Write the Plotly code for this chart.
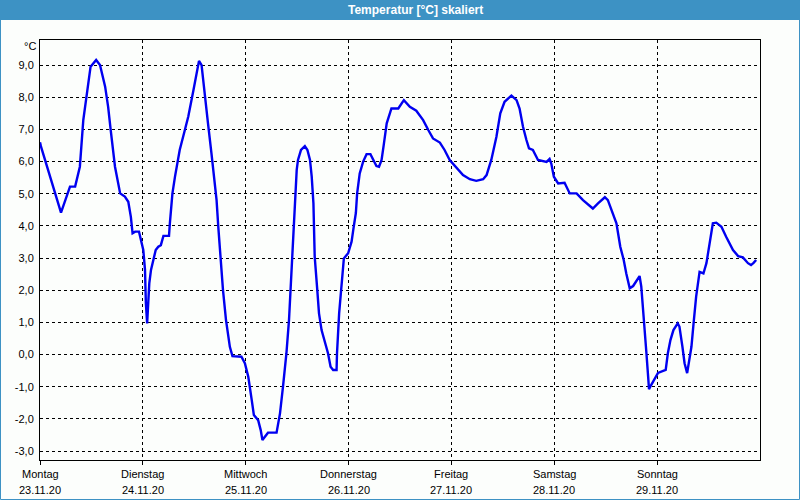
import plotly.graph_objects as go

# hours since Monday 23.11.20 00:00
hours = [0, 0.2, 4.9, 7.0, 8.2, 9.3, 10.1, 10.9, 11.8, 13.1, 14.0, 15.2, 15.9, 16.5, 17.5, 18.7,
         19.8, 20.6, 21.2, 21.6, 22.2, 23.1, 23.6, 24.1, 24.5, 24.7, 25.0, 25.3, 25.5, 25.9,
         26.4, 27.0, 27.6, 28.2, 28.8, 30.1, 30.3, 30.9, 31.5, 32.6, 33.8, 34.6, 35.8, 36.5,
         37.1, 37.7, 38.2, 39.2, 40.0, 40.8, 41.2, 41.6, 42.1, 42.7, 43.4, 43.9, 44.3, 44.9,
         47.0, 47.8, 48.6, 49.4, 49.9, 50.9, 51.5, 51.9, 52.5, 53.2, 55.2, 56.0, 56.7, 57.5,
         58.1, 58.7, 59.1, 59.5, 59.9, 60.2, 60.9, 61.8, 62.4, 63.0, 63.4, 63.8, 64.1, 64.7,
         65.1, 65.7, 66.5, 67.2, 67.8, 68.4, 69.2, 69.3, 69.8, 70.4, 70.9, 71.9, 72.7, 73.2,
         73.7, 74.0, 74.6, 75.4, 76.2, 77.1, 77.7, 78.5, 79.1, 79.7, 80.2, 80.9, 82.0, 83.6,
         84.9, 86.3, 87.8, 89.4, 90.6, 91.7, 93.3, 94.4, 95.6, 97.2, 98.7, 100.3, 101.8, 103.4,
         104.2, 105.3, 106.5, 107.4, 108.4, 110.0, 111.2, 111.9, 112.7, 113.5, 114.1, 115.0,
         116.2, 118.2, 118.9, 119.3, 119.9, 120.9, 122.4, 123.6, 125.2, 126.7, 127.9, 129.0,
         130.2, 131.8, 132.5, 133.7, 134.5, 135.4, 136.2, 136.8, 137.6, 138.4, 139.3, 139.9,
         140.3, 140.7, 141.1, 141.5, 141.9, 142.1, 142.6, 143.4, 144.2, 146.0, 146.5, 147.1,
         147.8, 148.8, 149.2, 149.9, 150.4, 151.0, 151.4, 152.0, 152.5, 153.1, 153.9, 154.8,
         155.5, 156.2, 157.0, 157.8, 159.0, 160.1, 161.7, 162.9, 164.0, 165.2, 165.9, 166.5,
         167.1]

temps = [6.6, 6.48, 4.41, 5.22, 5.22, 5.84, 7.29, 8.02, 8.95, 9.16, 9.0, 8.33, 7.7, 6.98, 5.84, 5.01,
         4.91, 4.75, 4.28, 3.77, 3.82, 3.82, 3.56, 3.25, 2.63, 1.6, 0.97, 1.6, 2.21, 2.63,
         2.94, 3.25, 3.35, 3.4, 3.69, 3.69, 4.08, 5.01, 5.53, 6.36, 6.98, 7.4, 8.22, 8.74,
         9.13, 9.0, 8.33, 7.19, 6.26, 5.32, 4.8, 3.97, 3.04, 2.0, 1.07, 0.55, 0.24, -0.05,
         -0.07, -0.27, -0.69, -1.41, -1.88, -2.04, -2.35, -2.66, -2.55, -2.43, -2.43, -1.83, -1.0, 0.04,
         1.07, 2.73, 3.77, 4.6, 5.74, 6.05, 6.36, 6.48, 6.36, 6.05, 5.53, 4.7, 3.04, 2.0,
         1.28, 0.76, 0.35, 0.04, -0.38, -0.48, -0.48, 0.04, 1.28, 2.21, 2.99, 3.15, 3.51, 3.97,
         4.4, 5.01, 5.63, 6.0, 6.23, 6.23, 6.05, 5.86, 5.84, 6.05, 6.51, 7.19, 7.65, 7.65,
         7.91, 7.7, 7.58, 7.29, 6.98, 6.72, 6.59, 6.36, 6.05, 5.82, 5.58, 5.45, 5.4, 5.45,
         5.58, 6.05, 6.77, 7.5, 7.86, 8.05, 7.91, 7.65, 7.08, 6.67, 6.41, 6.36,
         6.05, 5.99, 6.08, 5.94, 5.53, 5.32, 5.34, 5.01, 5.01, 4.8, 4.65, 4.54,
         4.7, 4.89, 4.8, 4.39, 4.08, 3.35, 2.94, 2.52, 2.06, 2.13, 2.32, 2.44,
         2.11, 1.49, 0.87, 0.04, -0.69, -1.08, -0.95, -0.74, -0.57, -0.48, 0.04, 0.45,
         0.76, 0.97, 0.87, 0.24, -0.27, -0.58, -0.27, 0.24, 0.97, 1.8, 2.57, 2.52,
         2.84, 3.46, 4.08, 4.1, 3.97, 3.66, 3.25, 3.06, 3.02, 2.84, 2.78, 2.85,
         2.94]

day_names = ["Montag", "Dienstag", "Mittwoch", "Donnerstag", "Freitag", "Samstag", "Sonntag"]
day_dates = ["23.11.20", "24.11.20", "25.11.20", "26.11.20", "27.11.20", "28.11.20", "29.11.20"]
day_hours = [0, 24, 48, 72, 96, 120, 144]
y_ticks = [-3, -2, -1, 0, 1, 2, 3, 4, 5, 6, 7, 8, 9]
y_labels = ["-3,0", "-2,0", "-1,0", "0,0", "1,0", "2,0", "3,0", "4,0", "5,0", "6,0", "7,0", "8,0", "9,0"]

FONT = "Liberation Sans"
W, H = 800, 500
L, R, T, B = 40, 40, 40, 40
pw, ph = W - L - R, H - T - B


def px(xp):
    return (xp - L) / pw


def py(yp):
    return (H - B - yp) / ph


fig = go.Figure()
fig.add_trace(go.Scatter(x=hours, y=temps, mode="lines",
                         line=dict(color="#0000f0", width=2.4), hoverinfo="skip"))

annotations = [
    dict(text="<b>Temperatur [°C] skaliert</b>", xref="paper", yref="paper",
         x=px(415), y=py(10), xanchor="center", yanchor="middle", showarrow=False,
         font=dict(family=FONT, size=12, color="white")),
    dict(text="°C", xref="paper", yref="paper", x=px(38), y=py(46),
         xanchor="right", yanchor="middle", showarrow=False,
         font=dict(family=FONT, size=11, color="black")),
]
for h, n, d in zip(day_hours, day_names, day_dates):
    annotations.append(dict(text=n, xref="x", yref="paper", x=h, y=py(474),
                            xanchor="center", yanchor="middle", showarrow=False,
                            font=dict(family=FONT, size=11, color="black")))
    annotations.append(dict(text=d, xref="x", yref="paper", x=h, y=py(490),
                            xanchor="center", yanchor="middle", showarrow=False,
                            font=dict(family=FONT, size=11, color="black")))

fig.update_layout(
    width=W, height=H,
    margin=dict(l=L, r=R, t=T, b=B),
    paper_bgcolor="#fcfefc", plot_bgcolor="#fcfefc",
    showlegend=False,
    font=dict(family=FONT, size=11, color="black"),
    xaxis=dict(range=[0, 168], tickvals=day_hours, showticklabels=False,
               showgrid=True, gridcolor="black", griddash="3px,3px", gridwidth=1,
               showline=True, linecolor="black", linewidth=1, mirror=True,
               ticks="outside", ticklen=4, tickcolor="black", zeroline=False),
    yaxis=dict(range=[-3.28, 9.78], tickvals=y_ticks, ticktext=y_labels,
               showgrid=True, gridcolor="black", griddash="3px,3px", gridwidth=1,
               showline=True, linecolor="black", linewidth=1, mirror=True,
               ticks="", zeroline=False, ticklabelstandoff=3,
               tickfont=dict(family=FONT, size=11)),
    shapes=[
        dict(type="rect", xref="paper", yref="paper", x0=px(0), x1=px(W), y0=py(20), y1=py(0),
             fillcolor="#3d92c4", line=dict(width=0), layer="below"),
        dict(type="rect", xref="paper", yref="paper", x0=px(0.5), x1=px(W - 0.5), y0=py(H - 0.5), y1=py(0.5),
             fillcolor="rgba(0,0,0,0)", line=dict(color="#3d92c4", width=1)),
    ],
    annotations=annotations,
)

fig.write_html("out.html")
